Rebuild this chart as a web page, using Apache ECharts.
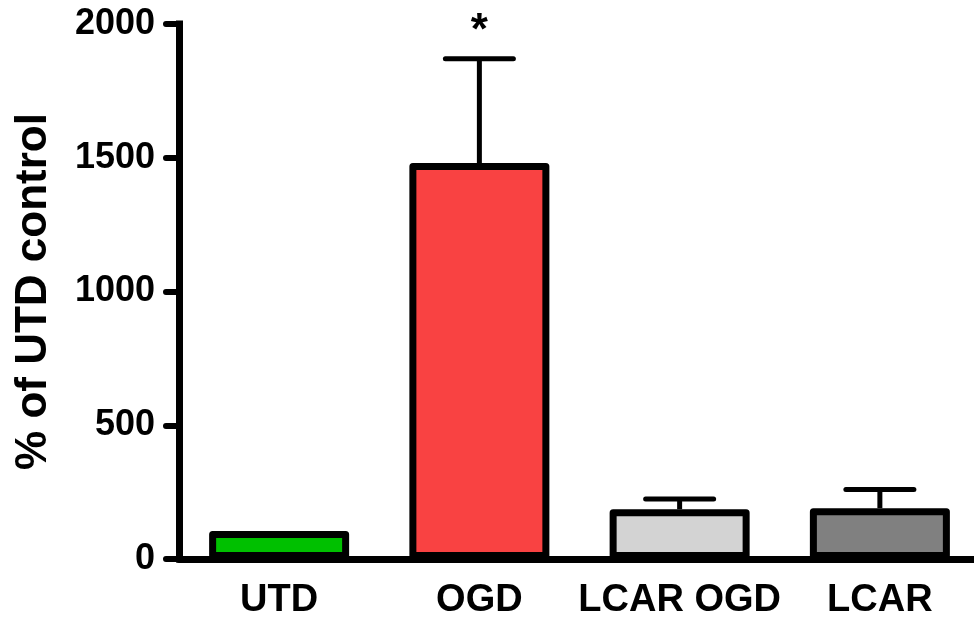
<!DOCTYPE html>
<html>
<head>
<meta charset="utf-8">
<script src="https://cdn.jsdelivr.net/npm/echarts@6/dist/echarts.min.js"></script>
<style>
  html, body { margin: 0; padding: 0; background: #ffffff; }
  #chart { width: 974px; height: 621px; }
</style>
</head>
<body>
<div id="chart"></div>
<script>
// Group names, means (% of UTD control), upper SEM and significance marks
const groups = ['UTD', 'OGD', 'LCAR OGD', 'LCAR'];
const means = [105, 1480, 186, 190];
const sem = [0, 390, 38, 70];
const significance = ['', '*', '', ''];
const barColors = ['#00c000', '#f94242', '#d3d3d3', '#808080'];
const yTicks = { min: 0, max: 2000, step: 500 };

const FONT = '"Liberation Sans", Arial, sans-serif';

const chart = echarts.init(document.getElementById('chart'), null, { renderer: 'canvas' });

const errorData = groups.map((g, i) => [i, means[i], means[i] + sem[i], significance[i]]);

chart.setOption({
  animation: false,
  backgroundColor: '#ffffff',
  grid: { left: 179, top: 24, width: 801, bottom: 62, containLabel: false, outerBoundsMode: 'none' },
  xAxis: {
    type: 'category',
    data: groups,
    axisLine: { lineStyle: { color: '#000', width: 7 } },
    axisTick: { alignWithLabel: true, length: 14, lineStyle: { color: '#000', width: 6, cap: 'round' } },
    axisLabel: { interval: 0, color: '#000', fontFamily: FONT, fontWeight: 'bold', fontSize: 38, margin: 23 }
  },
  yAxis: {
    type: 'value',
    min: yTicks.min,
    max: yTicks.max,
    interval: yTicks.step,
    name: '% of UTD control',
    nameLocation: 'middle',
    nameGap: 123,
    nameTextStyle: { color: '#000', fontFamily: FONT, fontWeight: 'bold', fontSize: 44 },
    axisLine: { show: true, lineStyle: { color: '#000', width: 7, cap: 'square' } },
    axisTick: { show: true, length: 13, lineStyle: { color: '#000', width: 6, cap: 'round' } },
    axisLabel: {
      color: '#000', fontFamily: FONT, fontWeight: 'bold', fontSize: 36, margin: 24,
      formatter: v => String(v)
    },
    splitLine: { show: false }
  },
  series: [
    {
      type: 'bar',
      barWidth: 140,
      data: means.map((v, i) => ({
        value: v,
        itemStyle: { color: barColors[i] }
      })),
      itemStyle: { borderColor: '#000', borderWidth: 7, borderJoin: 'round' },
      z: 2
    },
    {
      type: 'custom',
      z: 3,
      data: errorData,
      renderItem: function (params, api) {
        const x = api.coord([api.value(0), api.value(1)])[0];
        const yMean = api.coord([api.value(0), api.value(1)])[1];
        const yHigh = api.coord([api.value(0), api.value(2)])[1];
        const half = 34;
        const children = [];
        if (api.value(2) > api.value(1)) {
          children.push(
            {
              type: 'line',
              shape: { x1: x, y1: yMean, x2: x, y2: yHigh },
              style: { stroke: '#000', lineWidth: 5 }
            },
            {
              type: 'line',
              shape: { x1: x - half, y1: yHigh, x2: x + half, y2: yHigh },
              style: { stroke: '#000', lineWidth: 5, lineCap: 'round' }
            }
          );
        }
        const mark = api.value(3);
        if (mark) {
          children.push({
            type: 'text',
            style: {
              text: mark,
              x: x,
              y: yHigh - 27,
              align: 'center',
              verticalAlign: 'middle',
              fill: '#000',
              font: 'bold 44px ' + FONT
            }
          });
        }
        return { type: 'group', children: children };
      }
    }
  ]
});
</script>
</body>
</html>
